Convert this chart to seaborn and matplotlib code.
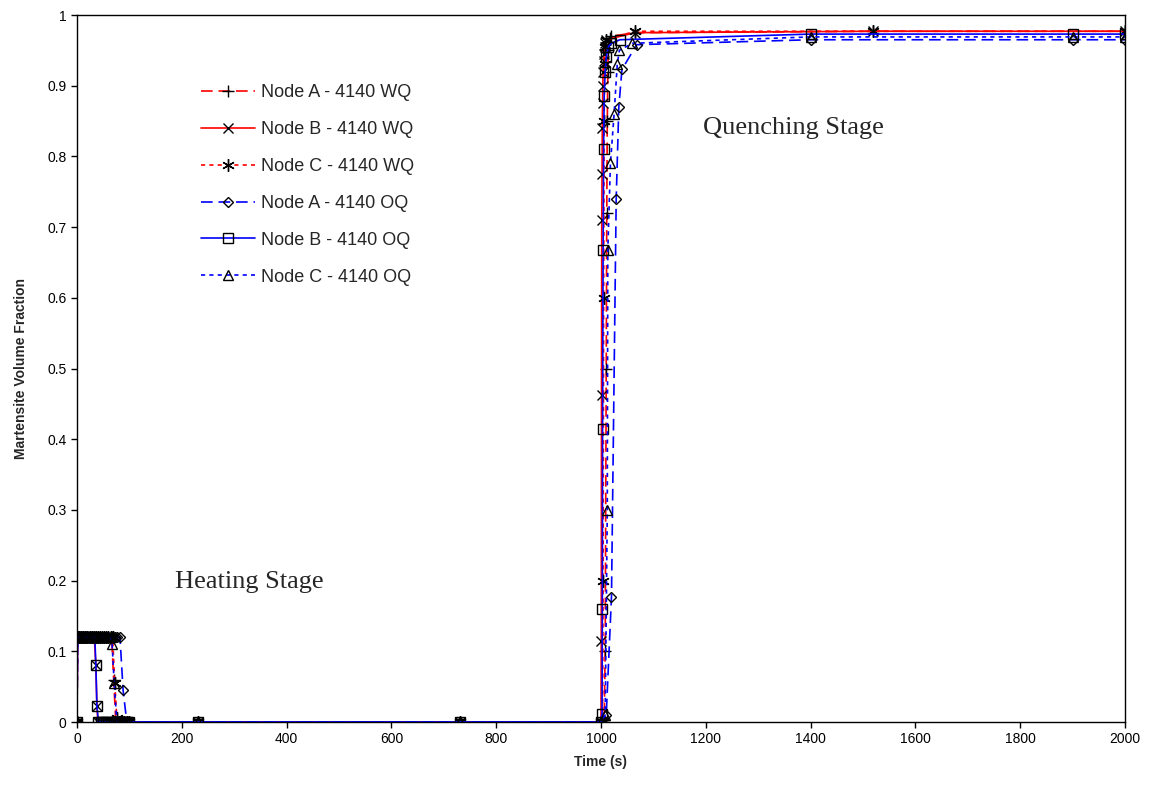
import matplotlib
matplotlib.use("Agg")
import matplotlib.pyplot as plt
import seaborn as sns
import numpy as np
import pandas as pd

# ---------------- data ----------------
x_ticks = [0, 200, 400, 600, 800, 1000, 1200, 1400, 1600, 1800, 2000]
y_ticks = [0, 0.1, 0.2, 0.3, 0.4, 0.5, 0.6, 0.7, 0.8, 0.9, 1.0]
y_tick_labels = ["0", "0.1", "0.2", "0.3", "0.4", "0.5", "0.6", "0.7", "0.8", "0.9", "1"]

# Node A - 4140 WQ
a_wq_t = [0, 1, 4, 8, 12, 16, 20, 24, 28, 32, 36, 40, 44, 48, 52, 56, 60, 64, 66, 70, 74, 78, 82, 86, 90, 95, 100,
          230, 730, 1000, 1004, 1006, 1008, 1010, 1011, 1012, 1013, 1014, 1016, 1018, 1020, 1065, 1520, 2000]
a_wq_v = [0, 0.12, 0.12, 0.12, 0.12, 0.12, 0.12, 0.12, 0.12, 0.12, 0.12, 0.12, 0.12, 0.12, 0.12, 0.12, 0.12, 0.12, 0.12, 0.06, 0, 0, 0, 0, 0, 0, 0,
          0, 0, 0, 0, 0, 0.1, 0.5, 0.72, 0.85, 0.92, 0.95, 0.962, 0.967, 0.97, 0.975, 0.977, 0.977]

# Node B - 4140 WQ
b_wq_t = [0, 1, 4, 8, 12, 16, 20, 24, 28, 33, 36, 38, 40, 44, 48, 52, 56, 60, 64, 68, 72, 76, 80, 85, 90, 95, 100,
          230, 730, 1000, 1000.5, 1001, 1001.5, 1002, 1002.5, 1003, 1003.5, 1004, 1005, 1006, 1007, 1008, 1010, 1065, 1520, 2000]
b_wq_v = [0, 0.12, 0.12, 0.12, 0.12, 0.12, 0.12, 0.12, 0.12, 0.12, 0.08, 0.022, 0, 0, 0, 0, 0, 0, 0, 0, 0, 0, 0, 0, 0, 0, 0,
          0, 0, 0, 0.115, 0.463, 0.71, 0.775, 0.84, 0.875, 0.9, 0.92, 0.935, 0.945, 0.955, 0.96, 0.965, 0.975, 0.977, 0.977]

# Node C - 4140 WQ
c_wq_t = [0, 1, 4, 8, 12, 16, 20, 24, 28, 32, 36, 40, 44, 48, 52, 56, 60, 64, 68, 72, 76, 80, 85, 90, 95, 100,
          230, 730, 1000, 1003, 1004, 1005, 1006, 1007, 1008, 1010, 1065, 1520, 2000]
c_wq_v = [0, 0.12, 0.12, 0.12, 0.12, 0.12, 0.12, 0.12, 0.12, 0.12, 0.12, 0.12, 0.12, 0.12, 0.12, 0.12, 0.12, 0.12, 0.12, 0.055, 0.006, 0, 0, 0, 0, 0,
          0, 0, 0, 0, 0.2, 0.6, 0.85, 0.93, 0.955, 0.965, 0.977, 0.977, 0.977]

# Node A - 4140 OQ
a_oq_t = [0, 1, 4, 8, 12, 16, 20, 24, 28, 32, 36, 40, 44, 48, 52, 56, 60, 64, 68, 72, 76, 82, 88, 95, 100,
          230, 730, 1000, 1010, 1020, 1029, 1034, 1040, 1068, 1400, 1900, 2000]
a_oq_v = [0, 0.12, 0.12, 0.12, 0.12, 0.12, 0.12, 0.12, 0.12, 0.12, 0.12, 0.12, 0.12, 0.12, 0.12, 0.12, 0.12, 0.12, 0.12, 0.12, 0.12, 0.12, 0.045, 0, 0,
          0, 0, 0, 0.01, 0.177, 0.74, 0.87, 0.923, 0.958, 0.965, 0.965, 0.965]

# Node B - 4140 OQ
b_oq_t = [0, 1, 4, 8, 12, 16, 20, 24, 28, 34, 36, 38, 41, 45, 50, 55, 60, 65, 70, 75, 80, 85, 90, 95, 100,
          230, 730, 1000, 1002, 1002.5, 1003, 1004, 1005, 1006, 1008, 1010, 1014, 1020, 1036, 1400, 1900, 2000]
b_oq_v = [0, 0.12, 0.12, 0.12, 0.12, 0.12, 0.12, 0.12, 0.12, 0.12, 0.08, 0.022, 0, 0, 0, 0, 0, 0, 0, 0, 0, 0, 0, 0, 0,
          0, 0, 0, 0.012, 0.16, 0.415, 0.667, 0.81, 0.885, 0.92, 0.94, 0.955, 0.96, 0.965, 0.973, 0.973, 0.973]

# Node C - 4140 OQ
c_oq_t = [0, 1, 4, 8, 12, 16, 20, 24, 28, 32, 36, 40, 44, 48, 52, 56, 60, 64, 67, 71, 76, 80, 85, 90, 95, 100,
          230, 730, 1000, 1008, 1012, 1013, 1018, 1025, 1031, 1035, 1060, 1400, 1900, 2000]
c_oq_v = [0, 0.12, 0.12, 0.12, 0.12, 0.12, 0.12, 0.12, 0.12, 0.12, 0.12, 0.12, 0.12, 0.12, 0.12, 0.12, 0.12, 0.12, 0.11, 0.055, 0, 0, 0, 0, 0, 0,
          0, 0, 0, 0.01, 0.30, 0.667, 0.79, 0.86, 0.93, 0.95, 0.96, 0.969, 0.969, 0.969]

series_labels = ["Node A - 4140 WQ", "Node B - 4140 WQ", "Node C - 4140 WQ",
                 "Node A - 4140 OQ", "Node B - 4140 OQ", "Node C - 4140 OQ"]

# ---------------- styling ----------------
sns.set_style("ticks")
plt.rcParams["font.family"] = ["Liberation Sans", "DejaVu Sans"]

fig = plt.figure(figsize=(11.51, 7.92), dpi=100)
ax = fig.add_axes([77 / 1151, 1 - 722 / 792, (1125 - 77) / 1151, (722 - 15) / 792])

RED = "#FF0000"
BLUE = "#0000FF"
DASH = (0, (7, 3.5))
DOT = (0, (2.5, 2.5))

styles = [
    (a_wq_t, a_wq_v, RED, DASH, "+", 8),
    (b_wq_t, b_wq_v, RED, "-", "x", 7),
    (c_wq_t, c_wq_v, RED, DOT, (6, 2, 0), 9),
    (a_oq_t, a_oq_v, BLUE, DASH, "D", 5),
    (b_oq_t, b_oq_v, BLUE, "-", "s", 7),
    (c_oq_t, c_oq_v, BLUE, DOT, "^", 7),
]

for (t, v, col, ls, mk, ms), lab in zip(styles, series_labels):
    df = pd.DataFrame({"t": t, "v": v})
    sns.lineplot(data=df, x="t", y="v", ax=ax, color=col, linestyle=ls,
                 linewidth=1.2, marker=mk, markersize=ms,
                 markeredgecolor="black", markerfacecolor="none",
                 markeredgewidth=1.0, estimator=None, sort=False, label=lab)

ax.set_xlim(0, 2000)
ax.set_ylim(0, 1)
ax.set_xticks(x_ticks)
ax.set_yticks(y_ticks)
ax.set_yticklabels(y_tick_labels)
ax.tick_params(axis="both", labelsize=10, length=4, width=1, direction="out", colors="black")
for s in ax.spines.values():
    s.set_color("black")
    s.set_linewidth(1.0)

ax.set_xlabel("Time (s)", fontsize=10, fontweight="bold", labelpad=6)
ax.set_ylabel("Martensite Volume Fraction", fontsize=10, fontweight="bold", labelpad=14)

ax.text(187, 0.198, "Heating Stage", fontsize=19, family=["Liberation Serif", "DejaVu Serif"],
        va="center", ha="left")
ax.text(1195, 0.84, "Quenching Stage", fontsize=19, family=["Liberation Serif", "DejaVu Serif"],
        va="center", ha="left")

leg = ax.legend(loc="upper left", bbox_to_anchor=(0.118, 0.902), frameon=False,
                fontsize=13, handlelength=3.0, handletextpad=0.35, labelspacing=1.1,
                borderaxespad=0, borderpad=0)

fig.savefig("out.png", dpi=100)
